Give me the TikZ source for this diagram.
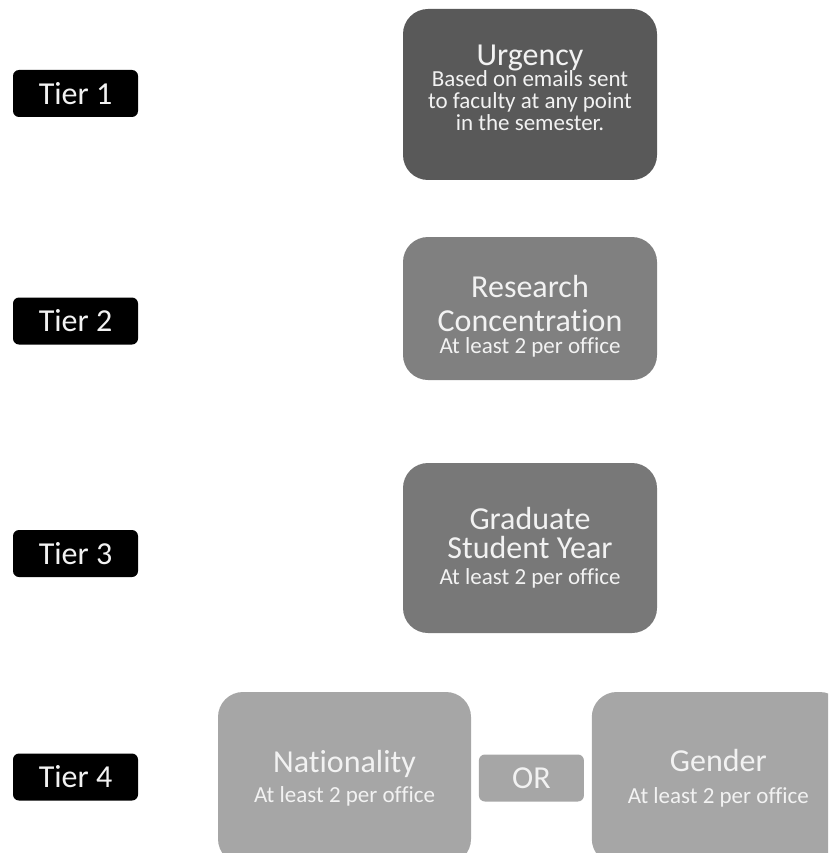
\documentclass[tikz,border=0pt]{standalone}
\usepackage{fontspec}
\setmainfont{Carlito}[Ligatures={NoCommon,NoRare}]
\usepackage{xcolor}
\definecolor{gris35}{gray}{.35}
\definecolor{gris47}{gray}{.47}
\definecolor{gris50}{gray}{.50}
\definecolor{gris65}{gray}{.65}
\definecolor{gris95}{gray}{.95}
\usepackage{tikz}
\usetikzlibrary{positioning}

\newcommand\titulo{\fontsize{32}{32}\selectfont}
\newcommand\detalle{\fontsize{23}{22}\selectfont}

\begin{document}
\begin{tikzpicture}[
    x=1pt, y=-1pt,
    font=\detalle,
    node distance=7.5pt,
    tier/.style={rectangle, fill=black, text=gris95, rounded corners=6pt,
      minimum width=125pt, minimum height=47pt, inner sep=0pt, font=\titulo},
    criterion/.style={rectangle, rounded corners=25pt, text=gris95,
      align=center, minimum width=254pt, inner sep=0pt},
    caption/.style={text=gris95, align=center, inner sep=0pt},
    tierfour/.style={criterion, fill=gris65, minimum width=253pt,
      minimum height=172pt},
    orbox/.style={rectangle, rounded corners=6pt, fill=gris65, text=gris95,
      minimum width=105pt, minimum height=47pt, inner sep=0pt, font=\titulo}
  ]
    \clip (0,0) rectangle (828,853);

    \node[tier] (t1) at (75.5,93.5) {Tier 1};
    \node[tier] (t2) at (75.5,321) {Tier 2};
    \node[tier] (t3) at (75.5,553.5) {Tier 3};
    \node[tier] (t4) at (75.5,777) {Tier 4};

    \node[criterion, fill=gris35, minimum height=171pt] (urgency) at (530,94.5) {};
    \node[caption] (urgencytext) at ([yshift=7pt]urgency.center)
      {{\titulo Urgency}\\[-1pt]Based on emails sent\\to faculty at any point\\in the semester.};
    \node[criterion, fill=gris50, minimum height=143pt] (research) at (530,308.5) {};
    \node[caption] (researchtext) at ([yshift=-8pt]research.center)
      {{\titulo Research}\\[11pt]{\titulo Concentration}\\At least 2 per office};
    \node[criterion, fill=gris47, minimum height=170pt] (graduate) at (530,548)
      {{\titulo Graduate}\\[5pt]{\titulo Student Year}\\[4.5pt]At least 2 per office};

    \node[tierfour] (nationality) at (344.5,778)
      {{\titulo Nationality}\\[8.5pt]At least 2 per office};
    \node[orbox, right=of nationality] (or) {OR};
    \node[tierfour, right=of or] (gender)
      {{\titulo Gender}\\[10pt]At least 2 per office};
  \end{tikzpicture}
\end{document}
